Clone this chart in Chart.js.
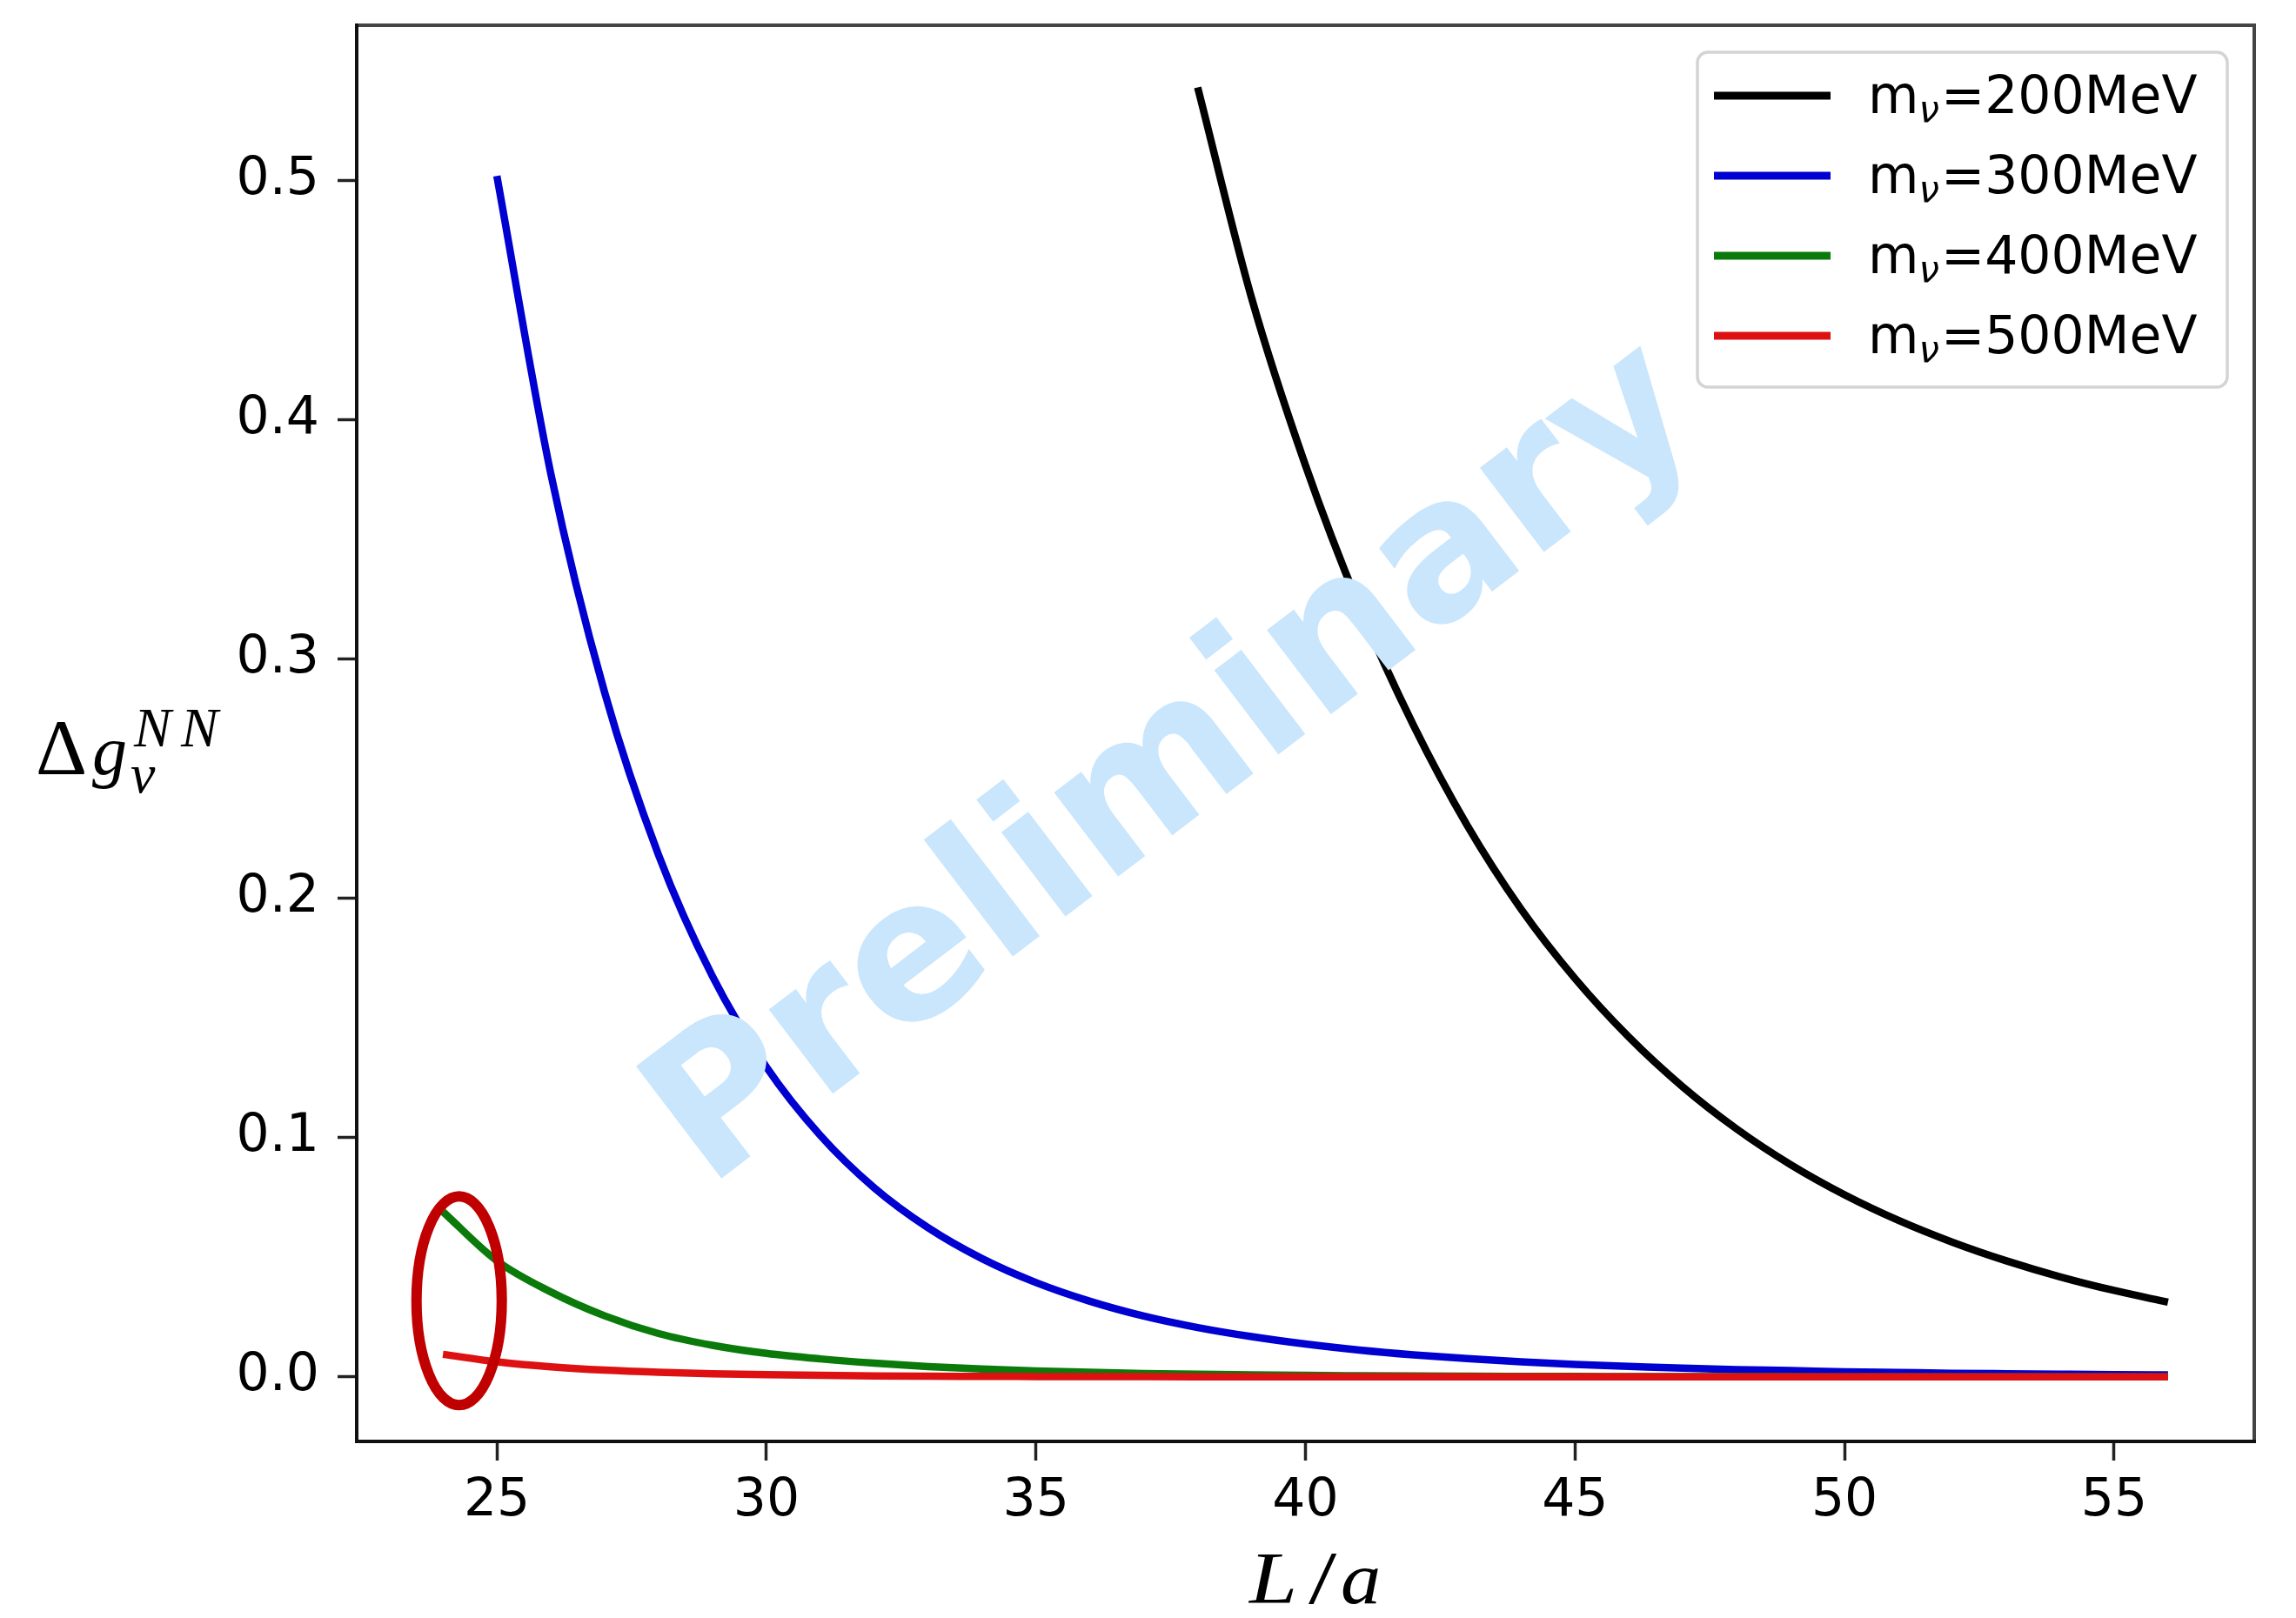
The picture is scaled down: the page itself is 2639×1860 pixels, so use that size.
<!DOCTYPE html>
<html><head><meta charset="utf-8">
<script src="https://cdn.jsdelivr.net/npm/chart.js@4.4.1/dist/chart.umd.min.js"></script>
<style>html,body{margin:0;padding:0;background:#fff;}canvas{display:block;}</style>
</head><body>
<canvas id="c" width="2639" height="1860" style="width:2639px;height:1860px"></canvas>
<script>
// ---- data ----
const L200 = [38,39,40,41,42,43,44,45,46,47,48,49,50,51,52,53,54,55,56];
const dg200 = [0.539,0.451,0.381,0.322,0.2725,0.2305,0.1955,0.1665,0.1420,0.1212,0.1036,0.0887,0.0761,0.0654,0.0563,0.0485,0.0418,0.0361,0.0312];

const L300 = [25,26,27,28,29,30,31,32,33,34,35,36,37,38,39,40,41,42,43,44,45,46,47,48,49,50,51,52,53,54,55,56];
const dg300 = [0.502,0.3776,0.2860,0.2181,0.1674,0.1295,0.1009,0.0790,0.0623,0.0494,0.0394,0.0316,0.0254,0.0206,0.0168,0.0137,0.0112,0.0092,0.0076,0.0063,0.0052,0.0044,0.0036,0.0030,0.0026,0.0021,0.0018,0.0015,0.0013,0.0011,0.0009,0.0008];

const L400 = [24,25,26,27,28,29,30,31,32,33,34,35,36,37,38,39,40,41,42,43,44,45,46,47,48,49,50,51,52,53,54,55,56];
const dg400 = [0.069,0.0485,0.0355,0.0255,0.0181,0.0132,0.0098,0.0075,0.0057,0.0043,0.0033,0.0025,0.0019,0.0014,0.0011,0.0008,0.0006,0.00046,0.00035,0.00027,0.0002,0.00015,0.00012,0.00009,0.00007,0.00005,0.00004,0.00003,0.00002,0.00002,0.00001,0.00001,0.00001];

const L500 = [24,25,26,27,28,29,30,31,32,33,34,35,36,37,38,39,40,41,42,43,44,45,46,47,48,49,50,51,52,53,54,55,56];
const dg500 = [0.0094,0.0063,0.0042,0.0028,0.0019,0.0013,0.0009,0.0006,0.0004,0.00028,0.00019,0.00013,0.00009,0.00006,0.00004,0.00003,0.00002,0.00001,0.00001,0.00001,0,0,0,0,0,0,0,0,0,0,0,0,0];

const seriesMass = ['200','300','400','500'];
const seriesColors = ['#000000','#0000d0','#0a7a0a','#dd1111'];

const xTicks = [25,30,35,40,45,50,55];
const xTickLabels = ['25','30','35','40','45','50','55'];
const yTicks = [0,0.1,0.2,0.3,0.4,0.5];
const yTickLabels = ['0.0','0.1','0.2','0.3','0.4','0.5'];

const watermarkText = 'Preliminary';
const circled = {x: 24.30, y: 0.0318};

// ---- helpers ----
function pts(xs, ys){ return xs.map((v,i)=>({x:v, y:ys[i]})); }
const allX = [L200, L300, L400, L500];
const allY = [dg200, dg300, dg400, dg500];

const datasets = allX.map((xs,i)=>({
  label: 'm_v=' + seriesMass[i] + 'MeV',
  data: pts(xs, allY[i]),
  borderColor: seriesColors[i],
  backgroundColor: seriesColors[i],
  borderWidth: 8.5,
  pointRadius: 0,
  pointHoverRadius: 0,
  fill: false,
  cubicInterpolationMode: 'monotone',
  borderCapStyle: 'butt',
  borderJoinStyle: 'round',
  order: 4 - i
}));

const FONT = '"DejaVu Sans", sans-serif';

const decor = {
  id: 'decor',
  beforeDraw(chart){
    const c = chart.ctx; c.save(); c.fillStyle = '#fff'; c.fillRect(0,0,chart.width,chart.height); c.restore();
  },
  afterDatasetsDraw(chart){
    const {ctx, chartArea:a, scales:{x, y}} = chart;
    const w = a.right - a.left, h = a.bottom - a.top;
    // watermark
    ctx.save();
    ctx.beginPath(); ctx.rect(a.left, a.top, w, h); ctx.clip();
    ctx.translate(a.left + 0.1848*w, a.top + 0.8219*h);
    ctx.rotate(-37.3*Math.PI/180);
    ctx.font = 'bold 222px "DejaVu Sans"';
    ctx.fillStyle = '#c9e6fd';
    ctx.textAlign = 'left'; ctx.textBaseline = 'alphabetic';
    ctx.fillText(watermarkText, 0, 0);
    ctx.restore();
    // red ellipse
    ctx.save();
    ctx.strokeStyle = '#c00000'; ctx.lineWidth = 12;
    ctx.beginPath();
    ctx.ellipse(x.getPixelForValue(circled.x), y.getPixelForValue(circled.y), 49, 120, 0, 0, 2*Math.PI);
    ctx.stroke();
    ctx.restore();
  },
  afterDraw(chart){
    const {ctx, chartArea:a} = chart;
    // spines
    ctx.save();
    ctx.lineWidth = 4; ctx.lineCap = 'square';
    ctx.strokeStyle = '#444';
    ctx.beginPath(); ctx.moveTo(a.left, a.top); ctx.lineTo(a.right, a.top); ctx.lineTo(a.right, a.bottom); ctx.stroke();
    ctx.strokeStyle = '#111';
    ctx.beginPath(); ctx.moveTo(a.left, a.top); ctx.lineTo(a.left, a.bottom); ctx.lineTo(a.right, a.bottom); ctx.stroke();
    ctx.restore();

    // legend
    ctx.save();
    const bw = 609, bh = 385;
    const bx = a.right - 31 - bw, by = a.top + 31;
    ctx.beginPath();
    ctx.roundRect(bx, by, bw, bh, 12);
    ctx.fillStyle = 'rgba(255,255,255,0.85)'; ctx.fill();
    ctx.lineWidth = 3.5; ctx.strokeStyle = '#d4d4d4'; ctx.stroke();
    for (let i = 0; i < 4; i++) {
      const cy = by + 50 + i*92;
      ctx.strokeStyle = seriesColors[i]; ctx.lineWidth = 9; ctx.lineCap = 'butt';
      ctx.beginPath(); ctx.moveTo(bx + 19, cy); ctx.lineTo(bx + 153, cy); ctx.stroke();
      let tx = bx + 196;
      const base = cy + 20;
      ctx.fillStyle = '#000'; ctx.textAlign = 'left'; ctx.textBaseline = 'alphabetic';
      ctx.font = '60px ' + FONT;
      ctx.fillText('m', tx, base); tx += ctx.measureText('m').width;
      ctx.font = 'oblique 42px ' + FONT;
      ctx.fillText('\u03bd', tx, base + 10); tx += ctx.measureText('\u03bd').width + 2;
      ctx.font = '60px ' + FONT;
      ctx.fillText('=' + seriesMass[i] + 'MeV', tx, base);
    }
    ctx.restore();

    // axis titles (math style)
    ctx.save();
    ctx.fillStyle = '#000'; ctx.textAlign = 'left'; ctx.textBaseline = 'alphabetic';
    // x title  L/a
    const xt = (ch, font, px, sx) => { ctx.save(); ctx.font = font; ctx.translate(px, 1843); ctx.scale(sx, 1); ctx.fillText(ch, 0, 0); ctx.restore(); };
    xt('L', 'italic 84px "Liberation Serif"', 1436, 1.18);
    xt('/', '86px "Liberation Serif"', 1504, 1.35);
    xt('a', 'italic 84px "Liberation Serif"', 1541, 1.1);
    // y title  Δg_ν^{NN}
    ctx.font = '92px "Liberation Serif"';
    ctx.fillText('\u0394', 41, 890);
    ctx.font = 'italic 80px "Liberation Serif"';
    ctx.fillText('g', 106, 890);
    ctx.font = 'italic 64px "Liberation Serif"';
    ctx.fillText('\u03bd', 150, 911);
    ctx.fillText('N', 154, 858);
    ctx.fillText('N', 208, 858);
    ctx.restore();
  }
};

new Chart(document.getElementById('c'), {
  type: 'line',
  data: { datasets },
  options: {
    responsive: false,
    devicePixelRatio: 1,
    animation: false,
    events: [],
    layout: { padding: { top: 29, right: 48, left: 0, bottom: 0 } },
    plugins: { legend: { display: false }, tooltip: { enabled: false }, title: { display: false } },
    scales: {
      x: {
        type: 'linear', min: 22.4, max: 57.6,
        afterBuildTicks: s => { s.ticks = xTicks.map(v => ({value: v})); },
        afterFit: s => { s.height = 203; s.paddingLeft = 0; s.paddingRight = 0; },
        ticks: { autoSkip: false, maxRotation: 0, padding: 11, color: '#000',
                 font: { family: FONT, size: 60 },
                 callback: (v, i) => xTickLabels[i] },
        grid: { display: true, drawOnChartArea: false, drawTicks: true, tickLength: 22, tickWidth: 3.5, tickColor: '#222' },
        border: { display: false }
      },
      y: {
        type: 'linear', min: -0.027, max: 0.565,
        afterBuildTicks: s => { s.ticks = yTicks.map(v => ({value: v})); },
        afterFit: s => { s.width = 410; s.paddingTop = 0; s.paddingBottom = 0; },
        ticks: { autoSkip: false, padding: 21, color: '#000',
                 font: { family: FONT, size: 60 },
                 callback: (v, i) => yTickLabels[i] },
        grid: { display: true, drawOnChartArea: false, drawTicks: true, tickLength: 22, tickWidth: 3.5, tickColor: '#222' },
        border: { display: false }
      }
    }
  },
  plugins: [decor]
});
</script>
</body></html>
